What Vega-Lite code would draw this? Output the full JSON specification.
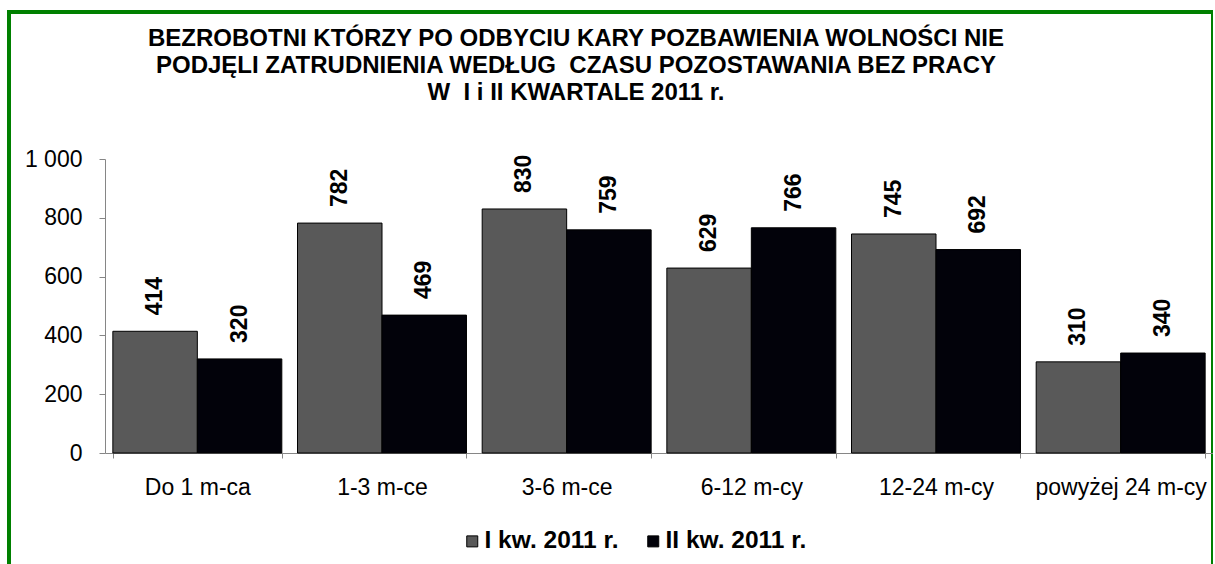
{
  "$schema": "https://vega.github.io/schema/vega-lite/v6.json",
  "width": 1204,
  "height": 560,
  "autosize": {"type": "none"},
  "padding": {"left": 9, "top": 12, "right": 0, "bottom": 0},
  "background": "white",
  "config": {
    "font": "Liberation Sans",
    "view": {"stroke": "#008000", "strokeWidth": 4}
  },
  "title": {
    "text": ["BEZROBOTNI KTÓRZY PO ODBYCIU KARY POZBAWIENIA WOLNOŚCI NIE", "PODJĘLI ZATRUDNIENIA WEDŁUG \u00a0CZASU POZOSTAWANIA BEZ PRACY", "W \u00a0I i II KWARTALE 2011 r."],
    "anchor": "middle",
    "frame": "group",
    "font": "Liberation Sans",
    "fontSize": 24,
    "fontWeight": "bold",
    "lineHeight": 27,
    "offset": -93,
    "dx": -35,
    "color": "black"
  },
  "data": {
    "values": [
      {"okres": "Do 1 m-ca", "kwartal": "I kw. 2011 r.", "liczba": 414},
      {"okres": "Do 1 m-ca", "kwartal": "II kw. 2011 r.", "liczba": 320},
      {"okres": "1-3 m-ce", "kwartal": "I kw. 2011 r.", "liczba": 782},
      {"okres": "1-3 m-ce", "kwartal": "II kw. 2011 r.", "liczba": 469},
      {"okres": "3-6 m-ce", "kwartal": "I kw. 2011 r.", "liczba": 830},
      {"okres": "3-6 m-ce", "kwartal": "II kw. 2011 r.", "liczba": 759},
      {"okres": "6-12 m-cy", "kwartal": "I kw. 2011 r.", "liczba": 629},
      {"okres": "6-12 m-cy", "kwartal": "II kw. 2011 r.", "liczba": 766},
      {"okres": "12-24 m-cy", "kwartal": "I kw. 2011 r.", "liczba": 745},
      {"okres": "12-24 m-cy", "kwartal": "II kw. 2011 r.", "liczba": 692},
      {"okres": "powyżej 24 m-cy", "kwartal": "I kw. 2011 r.", "liczba": 310},
      {"okres": "powyżej 24 m-cy", "kwartal": "II kw. 2011 r.", "liczba": 340}
    ]
  },
  "encoding": {
    "x": {
      "field": "okres",
      "type": "nominal",
      "sort": ["Do 1 m-ca", "1-3 m-ce", "3-6 m-ce", "6-12 m-cy", "12-24 m-cy", "powyżej 24 m-cy"],
      "scale": {"range": [96, 1204], "paddingInner": 0.085, "paddingOuter": 0.0425},
      "axis": {
        "title": null,
        "orient": "bottom",
        "offset": -119,
        "domainColor": "#868686",
        "tickColor": "#868686",
        "tickSize": 5,
        "tickBand": "extent",
        "labelAngle": 0,
        "labelFontSize": 23,
        "labelColor": "black",
        "labelPadding": 18,
        "grid": false
      }
    },
    "xOffset": {
      "field": "kwartal",
      "type": "nominal",
      "sort": ["I kw. 2011 r.", "II kw. 2011 r."],
      "scale": {"paddingInner": 0, "paddingOuter": 0}
    },
    "y": {
      "field": "liczba",
      "type": "quantitative",
      "scale": {"domain": [0, 1000], "range": [441, 147], "nice": false, "zero": true},
      "axis": {
        "title": null,
        "offset": -96,
        "values": [0, 200, 400, 600, 800, 1000],
        "grid": false,
        "domainColor": "#868686",
        "tickColor": "#868686",
        "tickSize": 6,
        "labelPadding": 17,
        "labelFontSize": 23,
        "labelColor": "black",
        "format": ",d",
        "labelExpr": "replace(datum.label, ',', ' ')"
      }
    }
  },
  "layer": [
    {
      "mark": {"type": "bar", "stroke": "black", "strokeWidth": 1},
      "encoding": {
        "color": {
          "field": "kwartal",
          "type": "nominal",
          "sort": ["I kw. 2011 r.", "II kw. 2011 r."],
          "scale": {"domain": ["I kw. 2011 r.", "II kw. 2011 r."], "range": ["#595959", "#02020a"]},
          "legend": {
            "orient": "none",
            "legendX": 451,
            "legendY": 517,
            "direction": "horizontal",
            "title": null,
            "symbolType": "square",
            "symbolSize": 121,
            "symbolStrokeColor": "black",
            "symbolStrokeWidth": 1,
            "symbolOpacity": 1,
            "labelFontSize": 24.5,
            "labelFontWeight": "bold",
            "labelColor": "black",
            "labelOffset": 0,
            "columnPadding": 22,
            "padding": 0
          }
        }
      }
    },
    {
      "mark": {"type": "text", "angle": 270, "align": "left", "baseline": "middle", "dx": 16, "fontSize": 23, "fontWeight": "bold", "color": "black"},
      "encoding": {
        "text": {"field": "liczba", "type": "quantitative"}
      }
    }
  ]
}
